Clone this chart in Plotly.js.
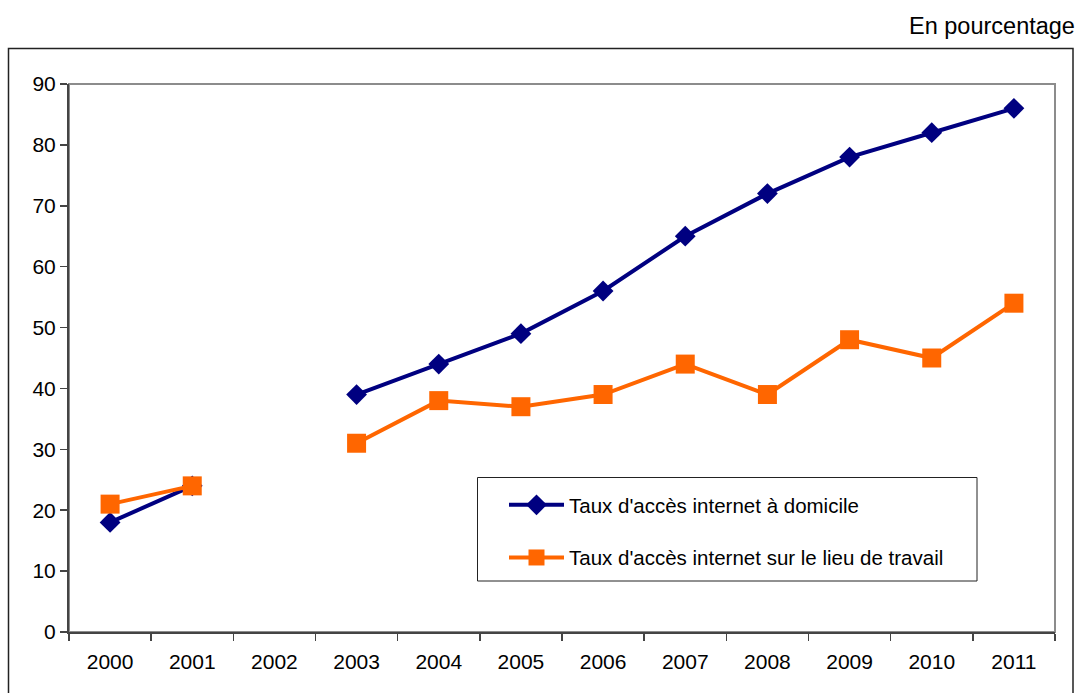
<!DOCTYPE html>
<html>
<head>
<meta charset="utf-8">
<script src="https://cdn.plot.ly/plotly-3.0.1.min.js"></script>
<style>
  html, body { margin: 0; padding: 0; background: #fff; }
  #chart { width: 1080px; height: 693px; }
</style>
</head>
<body>
<div id="chart"></div>
<script>
// Years on the category axis
const years = ['2000', '2001', '2002', '2003', '2004', '2005', '2006', '2007', '2008', '2009', '2010', '2011'];

// Internet access rates, in percent (no survey in 2002)
const domicile = [18, 24, null, 39, 44, 49, 56, 65, 72, 78, 82, 86];
const travail = [21, 24, null, 31, 38, 37, 39, 44, 39, 48, 45, 54];

const seriesNames = [
  "Taux d'accès internet à domicile",
  "Taux d'accès internet sur le lieu de travail"
];

const yTicks = [0, 10, 20, 30, 40, 50, 60, 70, 80, 90];

const FONT = '"Liberation Sans", Arial, Helvetica, sans-serif';

const traces = [
  {
    x: years, y: domicile, name: seriesNames[0],
    type: 'scatter', mode: 'lines+markers', connectgaps: false,
    legendgroup: 'a',
    line: { color: '#000080', width: 4 },
    marker: { symbol: 'diamond', size: 16, color: '#000080' }
  },
  {
    x: years, y: travail, name: seriesNames[1],
    type: 'scatter', mode: 'lines+markers', connectgaps: false,
    legendgroup: 'b',
    line: { color: '#FF6600', width: 4 },
    marker: { symbol: 'square', size: 19, color: '#FF6600' }
  }
];

// plot area: x 69..1055, y 84..632
const L = 69, R = 1080 - 1055, T = 84, B = 693 - 632;
const pw = 1080 - L - R, ph = 693 - T - B;
const px = v => (v - L) / pw;
const py = v => (693 - B - v) / ph;

const layout = {
  width: 1080, height: 693,
  margin: { l: L, r: R, t: T, b: B, pad: 0 },
  paper_bgcolor: '#ffffff', plot_bgcolor: '#ffffff',
  font: { family: FONT, size: 21, color: '#000' },
  showlegend: true,
  legend: {
    x: px(504), y: py(485), xanchor: 'left', yanchor: 'top',
    bgcolor: 'rgba(0,0,0,0)', borderwidth: 0,
    font: { family: FONT, size: 20.5, color: '#000' },
    traceorder: 'grouped', tracegroupgap: 23,
    itemwidth: 55
  },
  xaxis: {
    type: 'category', categoryorder: 'array', categoryarray: years,
    range: [-0.5, 11.5], fixedrange: true,
    showgrid: false, zeroline: false,
    showline: true, linecolor: '#444', linewidth: 2,
    ticks: 'outside', tickson: 'boundaries', ticklen: 7, tickwidth: 1.5, tickcolor: '#444',
    ticklabelstandoff: 10,
    tickfont: { family: FONT, size: 21, color: '#000' }
  },
  yaxis: {
    range: [0, 90], fixedrange: true,
    tickvals: yTicks, ticktext: yTicks.map(String),
    showgrid: false, zeroline: false,
    showline: true, linecolor: '#444', linewidth: 2,
    ticks: 'outside', ticklen: 7, tickwidth: 1.5, tickcolor: '#444',
    tickfont: { family: FONT, size: 21, color: '#000' }
  },
  shapes: [
    // outer frame of the figure
    {
      type: 'rect', xref: 'paper', yref: 'paper', layer: 'below',
      x0: px(8.5), x1: px(1073), y0: py(720), y1: py(48.5),
      line: { color: '#222', width: 1.5 }, fillcolor: 'rgba(0,0,0,0)'
    },
    // grey border of the plotting area (top and right)
    {
      type: 'rect', xref: 'paper', yref: 'paper', layer: 'below',
      x0: 0, x1: 1, y0: 0, y1: 1,
      line: { color: '#8c8c8c', width: 2 }, fillcolor: 'rgba(0,0,0,0)'
    },
    // legend frame
    {
      type: 'rect', xref: 'paper', yref: 'paper', layer: 'below',
      x0: px(477.5), x1: px(977), y0: py(581), y1: py(477.5),
      line: { color: '#222', width: 1 }, fillcolor: '#ffffff'
    }
  ],
  annotations: [
    {
      text: 'En pourcentage', xref: 'paper', yref: 'paper',
      x: px(1077), y: py(26), xanchor: 'right', yanchor: 'middle',
      showarrow: false, font: { family: FONT, size: 23.5, color: '#000' }
    }
  ]
};

Plotly.newPlot('chart', traces, layout, { displayModeBar: false, staticPlot: true });
</script>
</body>
</html>
